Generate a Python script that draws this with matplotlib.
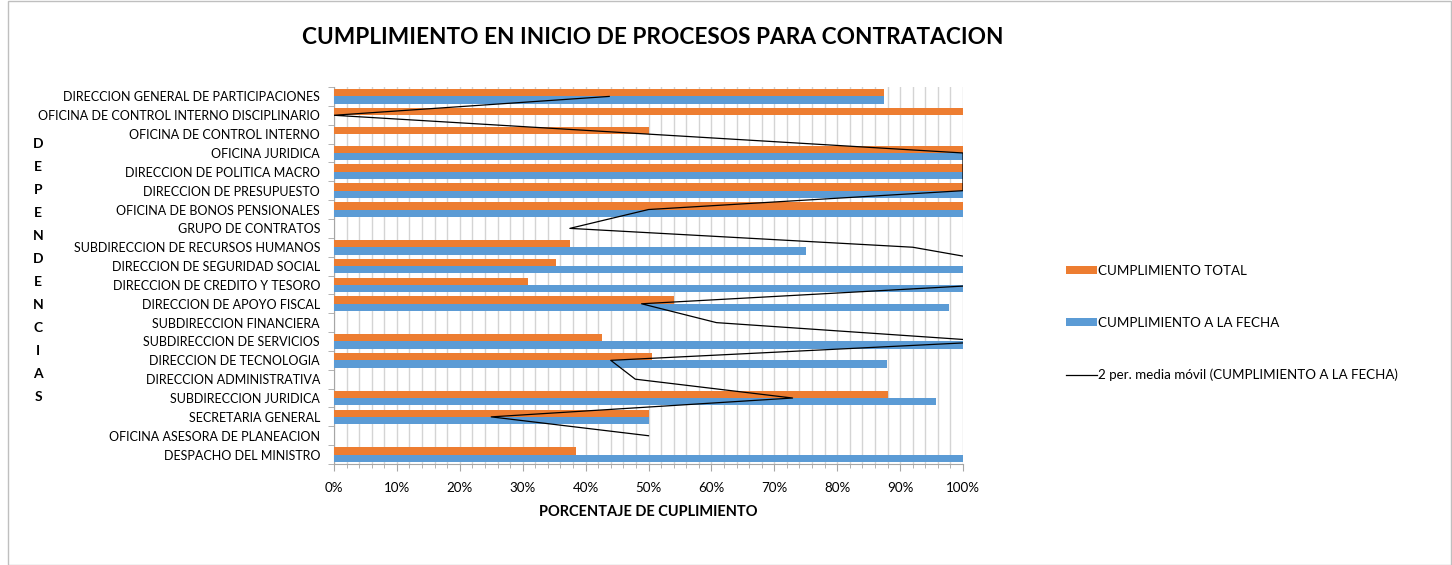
import numpy as np
import matplotlib
matplotlib.use("Agg")
import matplotlib.pyplot as plt
from matplotlib.patches import Patch, Rectangle
from matplotlib.lines import Line2D
from matplotlib.ticker import MultipleLocator, PercentFormatter

plt.rcParams['font.family'] = ['Lato', 'DejaVu Sans']

# categories in sheet order (first one is drawn at the bottom)
dependencias = [
    "DESPACHO DEL MINISTRO",
    "OFICINA ASESORA DE PLANEACION",
    "SECRETARIA GENERAL",
    "SUBDIRECCION JURIDICA",
    "DIRECCION ADMINISTRATIVA",
    "DIRECCION DE TECNOLOGIA",
    "SUBDIRECCION DE SERVICIOS",
    "SUBDIRECCION FINANCIERA",
    "DIRECCION DE APOYO FISCAL",
    "DIRECCION DE CREDITO Y TESORO",
    "DIRECCION DE SEGURIDAD SOCIAL",
    "SUBDIRECCION DE RECURSOS HUMANOS",
    "GRUPO DE CONTRATOS",
    "OFICINA DE BONOS PENSIONALES",
    "DIRECCION DE PRESUPUESTO",
    "DIRECCION DE POLITICA MACRO",
    "OFICINA JURIDICA",
    "OFICINA DE CONTROL INTERNO",
    "OFICINA DE CONTROL INTERNO DISCIPLINARIO",
    "DIRECCION GENERAL DE PARTICIPACIONES",
]

# percentages (0 = empty cell)
cumplimiento_total = [38.5, 0, 50, 88.1, 0, 50.6, 42.6, 0, 54.0, 30.8,
                      35.3, 37.5, 0, 100, 100, 100, 100, 50, 100, 87.5]
cumplimiento_fecha = [100, 0, 50, 95.7, 0, 87.9, 100, 0, 97.7, 100,
                      100, 75, 0, 100, 100, 100, 100, 0, 0, 87.5]
# trendline points (no point on the first category; some run past 100%)
media_movil = [np.nan, 50, 25, 72.9, 47.9, 44, 104.7, 60.8, 48.9, 103.4,
               109, 92, 37.5, 50, 100, 100, 100, 50, 0, 43.75]

naranja = "#ED7D31"
azul = "#5B9BD5"

fig = plt.figure(figsize=(14.52, 5.65), dpi=100)
ax = fig.add_axes([334/1452, 1-464/565, 629/1452, 377/565])

y = np.arange(len(dependencias))
h = 0.39
ax.barh(y + h/2, cumplimiento_total, height=h, color=naranja, zorder=3)
ax.barh(y - h/2, cumplimiento_fecha, height=h, color=azul, zorder=3)
ax.plot(media_movil, y, color="black", lw=0.9, zorder=4)

ax.set_xlim(0, 100)
ax.set_ylim(-0.5, len(dependencias) - 0.5)
ax.xaxis.set_major_locator(MultipleLocator(10))
ax.xaxis.set_minor_locator(MultipleLocator(2))
ax.xaxis.set_major_formatter(PercentFormatter(decimals=0))
ax.grid(axis="x", which="both", color="#D4D4D4", lw=1, zorder=0)

ax.set_yticks(y)
ax.set_yticklabels(dependencias)
ax.set_yticks(np.arange(-0.5, len(dependencias)), minor=True)
ax.tick_params(axis="y", which="major", length=0, labelsize=9.0, pad=10)
ax.tick_params(axis="y", which="minor", length=4, color="#A6A6A6")
ax.tick_params(axis="x", which="major", length=5, color="#A6A6A6", labelsize=9.6, pad=8)
ax.tick_params(axis="x", which="minor", length=3, color="#A6A6A6")

for s in ["top", "right"]:
    ax.spines[s].set_visible(False)
ax.spines["left"].set_color("#A6A6A6")
ax.spines["bottom"].set_color("#A6A6A6")

ax.set_xlabel("PORCENTAJE DE CUPLIMIENTO", fontsize=10.5, fontweight="bold", labelpad=8)

fig.text(653/1452, 1-38/565, "CUMPLIMIENTO EN INICIO DE PROCESOS PARA CONTRATACION",
         ha="center", va="center", fontsize=16.3, fontweight="bold")

fig.text(38/1452, 1-270/565, "\n".join("DEPENDENCIAS"), ha="center", va="center",
         fontsize=10, fontweight="bold", linespacing=2.1)

handles = [Patch(facecolor=naranja), Patch(facecolor=azul), Line2D([], [], color="black", lw=0.9)]
labels = ["CUMPLIMIENTO TOTAL", "CUMPLIMIENTO A LA FECHA",
          "2 per. media móvil (CUMPLIMIENTO A LA FECHA)"]
fig.legend(handles, labels, loc="center left", bbox_to_anchor=(1066/1452, 1-323/565),
           frameon=False, fontsize=9.6, labelspacing=3.0, handlelength=2.3,
           handleheight=0.45, handletextpad=0.1, borderpad=0, borderaxespad=0)

fig.patches.append(Rectangle((8/1452, 0), 1-9/1452, 1-1/565, transform=fig.transFigure,
                             fill=False, edgecolor="#BFBFBF", lw=1))

fig.savefig("out.png", dpi=100)
